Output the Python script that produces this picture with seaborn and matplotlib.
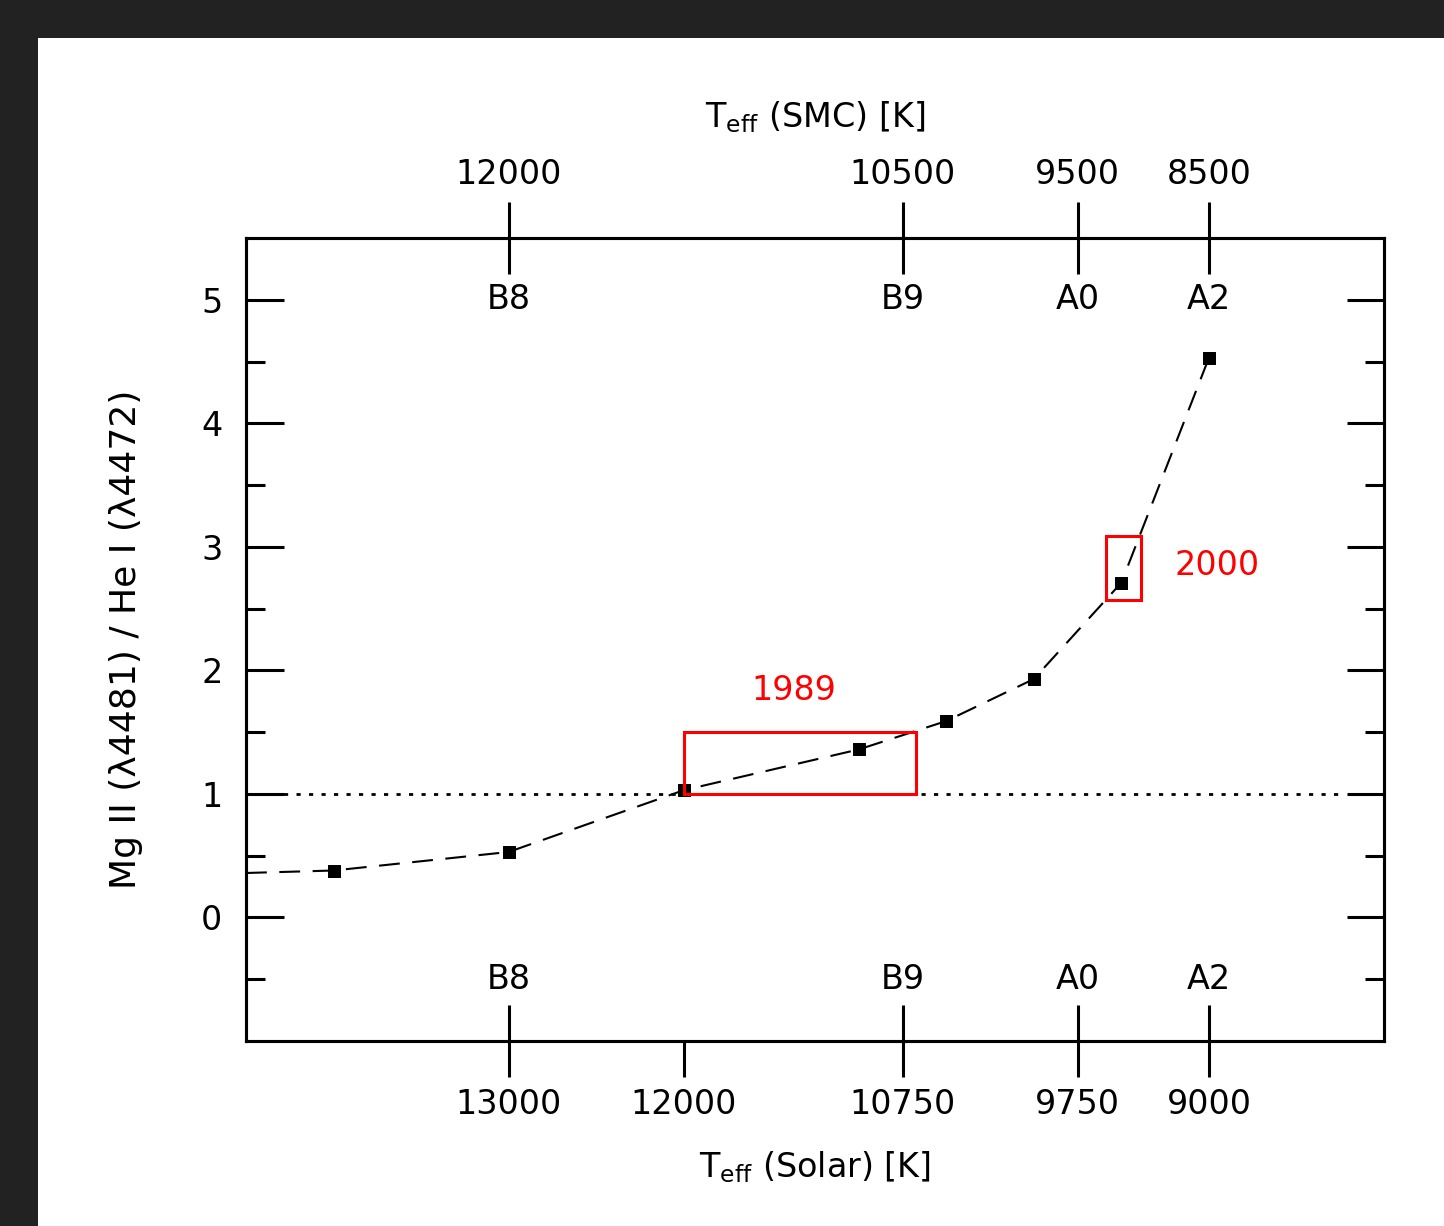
import matplotlib
matplotlib.use("Agg")
import matplotlib.pyplot as plt
from matplotlib.patches import Rectangle
import seaborn as sns
import pandas as pd

# measured line-ratio vs Teff (solar calibration)
teff_solar = [14000, 13000, 12000, 11000, 10500, 10000, 9500, 9000]
ratio = [0.38, 0.53, 1.03, 1.36, 1.59, 1.93, 2.71, 4.53]
# dashed curve continues to the left edge
curve_teff = [14500] + teff_solar
curve_ratio = [0.36] + ratio

spec_types = ["B8", "B9", "A0", "A2"]
spec_teff = [13000, 10750, 9750, 9000]
smc_labels = ["12000", "10500", "9500", "8500"]
solar_labels = ["13000", "10750", "9750", "9000"]

# highlighted ranges: (t_left, t_right, y_low, y_high, label)
boxes = [(12000, 10675, 1.0, 1.5, "1989"), (9590, 9390, 2.57, 3.09, "2000")]
box_label_pos = [(11370, 1.84), (8955, 2.85)]

sns.set_style("ticks")
plt.rcParams["font.family"] = ["DejaVu Sans"]
plt.rcParams["mathtext.fontset"] = "dejavusans"
for key in ["text.color", "axes.labelcolor", "xtick.color", "ytick.color", "axes.edgecolor"]:
    plt.rcParams[key] = "black"

fig = plt.figure(figsize=(14.44, 12.26), dpi=100)
fig.patch.set_facecolor("#222222")
fig.add_artist(Rectangle((38 / 1444, 0), 1, 1 - 38 / 1226, transform=fig.transFigure,
                         facecolor="white", edgecolor="none", zorder=-1))
ax = fig.add_axes([246 / 1444, 1 - 1041 / 1226, 1138 / 1444, 803 / 1226])

df = pd.DataFrame({"teff": teff_solar, "ratio": ratio})
dc = pd.DataFrame({"teff": curve_teff, "ratio": curve_ratio})
sns.lineplot(data=dc, x="teff", y="ratio", ax=ax, sort=False, color="black",
             lw=1.5, linestyle=(0, (10, 6)))
sns.scatterplot(data=df, x="teff", y="ratio", ax=ax, marker="s", s=80,
                color="black", edgecolor="black", zorder=5)

ax.axhline(1.0, xmin=0, xmax=(14500 - 8250) / 6500, color="black", lw=2,
           linestyle=(0, (1.5, 3)))

for (t0, t1, y0, y1, lab), (lx, ly) in zip(boxes, box_label_pos):
    ax.add_patch(Rectangle((t0, y0), t1 - t0, y1 - y0, fill=False,
                           edgecolor="red", lw=2.2, zorder=6))
    ax.text(lx, ly, lab, color="red", fontsize=24, ha="center", va="center")

ax.set_xlim(14500, 8000)
ax.set_ylim(-1.0, 5.5)

ax.set_yticks([0, 1, 2, 3, 4, 5])
ax.set_yticks([-0.5, 0.5, 1.5, 2.5, 3.5, 4.5], minor=True)
ax.tick_params(axis="y", which="major", direction="in", length=27, width=2.2,
               left=True, right=True, labelsize=24, pad=17)
ax.tick_params(axis="y", which="minor", direction="in", length=14, width=2.2,
               left=True, right=True)

ax.set_xticks(spec_teff)
ax.set_xticklabels(solar_labels)
ax.set_xticks([12000], minor=True)
ax.set_xticklabels(["12000"], minor=True)
ax.tick_params(axis="x", which="major", direction="inout", length=52, width=2.2,
               labelsize=24, pad=8)
ax.tick_params(axis="x", which="minor", direction="out", length=26, width=2.2,
               labelsize=24, pad=8)

for sp in ax.spines.values():
    sp.set_linewidth(2.2)
    sp.set_color("black")

ax.set_xlabel(r"T$_{\rm eff}$ (Solar) [K]", fontsize=24, labelpad=20)
ax.set_ylabel("Mg II (λ4481) / He I (λ4472)", fontsize=26, labelpad=42)

# spectral types drawn inside the frame, top and bottom
for t, s in zip(spec_teff, spec_types):
    ax.text(t, 0.924, s, transform=ax.get_xaxis_transform(), fontsize=24,
            ha="center", va="center")
    ax.text(t, 0.077, s, transform=ax.get_xaxis_transform(), fontsize=24,
            ha="center", va="center")

top = ax.twiny()
top.set_xlim(ax.get_xlim())
top.set_xticks(spec_teff)
top.set_xticklabels(smc_labels)
top.tick_params(axis="x", which="major", direction="inout", length=52, width=2.2,
                labelsize=24, pad=8)
top.tick_params(axis="x", which="minor", top=False, bottom=False)
for sp in top.spines.values():
    sp.set_linewidth(2.2)
    sp.set_color("black")
top.set_xlabel(r"T$_{\rm eff}$ (SMC) [K]", fontsize=24, labelpad=22)

fig.savefig("out.png", dpi=100, facecolor=fig.get_facecolor())
